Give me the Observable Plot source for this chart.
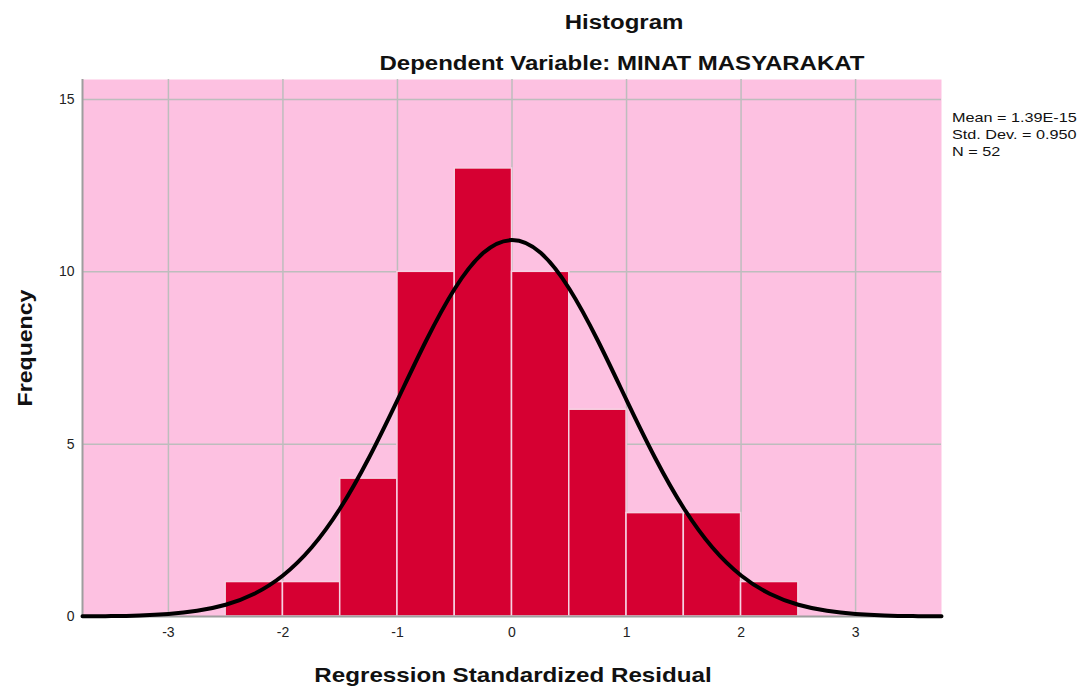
<!DOCTYPE html>
<html>
<head>
<meta charset="utf-8">
<script src="https://cdn.jsdelivr.net/npm/d3@7"></script>
<script src="https://cdn.jsdelivr.net/npm/@observablehq/plot@0.6"></script>
<style>
  html, body { margin: 0; padding: 0; background: #fff; }
  #wrap { position: relative; width: 1086px; height: 686px; font-family: "Liberation Sans", Arial, sans-serif; }
  .t { position: absolute; white-space: nowrap; color: #111; }
  #title { left: 624px; top: 11px; transform: translateX(-50%) scaleX(1.2); font-size: 20px; font-weight: bold; }
  #subtitle { left: 622px; top: 52px; transform: translateX(-50%) scaleX(1.2); font-size: 20px; font-weight: bold; }
  #ylab { left: 25px; top: 348px; transform: translate(-50%, -50%) rotate(-90deg) scaleX(1.1); font-size: 21px; font-weight: bold; }
  #xlab { left: 513px; top: 663px; transform: translateX(-50%) scaleX(1.15); font-size: 21px; font-weight: bold; }
  #stats { left: 952px; top: 109px; font-size: 13.5px; line-height: 17px; color: #111; transform-origin: 0 0; transform: scaleX(1.2); }
</style>
</head>
<body>
<div id="wrap">
  <div id="chart"></div>
  <div class="t" id="title">Histogram</div>
  <div class="t" id="subtitle">Dependent Variable: MINAT MASYARAKAT</div>
  <div class="t" id="ylab">Frequency</div>
  <div class="t" id="xlab">Regression Standardized Residual</div>
  <div class="t" id="stats">Mean = 1.39E-15<br>Std. Dev. = 0.950<br>N = 52</div>
</div>
<script>
// Histogram bins (lower edge, upper edge) and counts
const binStart = [-2.5, -2.0, -1.5, -1.0, -0.5, 0.0, 0.5, 1.0, 1.5, 2.0];
const binEnd   = [-2.0, -1.5, -1.0, -0.5,  0.0, 0.5, 1.0, 1.5, 2.0, 2.5];
const counts   = [1, 1, 4, 10, 13, 10, 6, 3, 3, 1];

// Normal curve
const curveX = [-3.75, -3.5, -3.25, -3.0, -2.75, -2.5, -2.25, -2.0, -1.75, -1.5, -1.25, -1.0, -0.75, -0.5, -0.25, 0.0,
                0.25, 0.5, 0.75, 1.0, 1.25, 1.5, 1.75, 2.0, 2.25, 2.5, 2.75, 3.0, 3.25, 3.5, 3.75];
const curveY = [0.005, 0.012, 0.031, 0.075, 0.165, 0.34, 0.66, 1.19, 2.0, 3.14, 4.6, 6.28, 8.0, 9.51, 10.55, 10.92,
                10.55, 9.51, 8.0, 6.28, 4.6, 3.14, 2.0, 1.19, 0.66, 0.34, 0.165, 0.075, 0.031, 0.012, 0.005];

const xTicks = [-3, -2, -1, 0, 1, 2, 3];
const yTicks = [0, 5, 10, 15];

const bars = counts.map((c, i) => ({x1: binStart[i], x2: binEnd[i], y: c}));
const curve = curveX.map((x, i) => ({x, y: curveY[i]}));

const chart = Plot.plot({
  width: 1086,
  height: 686,
  marginLeft: 82,
  marginRight: 145,
  marginTop: 79,
  marginBottom: 70,
  style: {fontFamily: "'Liberation Sans', Arial, sans-serif", fontSize: "14px", background: "transparent", color: "#222"},
  x: {domain: [-3.75, 3.75], ticks: xTicks, label: null},
  y: {domain: [0, 15.58], ticks: yTicks, label: null},
  marks: [
    Plot.frame({fill: "#FDC1E1", stroke: null}),
    Plot.ruleX(xTicks, {stroke: "#BDBDBD", strokeWidth: 1.5}),
    Plot.ruleY(yTicks.filter(d => d > 0), {stroke: "#BDBDBD", strokeWidth: 1.5}),
    Plot.rectY(bars, {x1: "x1", x2: "x2", y: "y", fill: "#D60032", stroke: "#F6D2E2", strokeWidth: 1.5}),
    Plot.ruleY([0], {stroke: "#9E9E9E", strokeWidth: 2}),
    Plot.ruleX([-3.75], {stroke: "#9E9E9E", strokeWidth: 2}),
    Plot.line(curve, {x: "x", y: "y", curve: "natural", stroke: "#000", strokeWidth: 4}),
    Plot.axisX({ticks: xTicks, tickSize: 0, tickPadding: 11, fontSize: 14, label: null, tickFormat: d => String(d)}),
    Plot.axisY({ticks: yTicks, tickSize: 0, tickPadding: 8, fontSize: 14, label: null, tickFormat: d => String(d)})
  ]
});
document.getElementById("chart").appendChild(chart);
</script>
</body>
</html>
